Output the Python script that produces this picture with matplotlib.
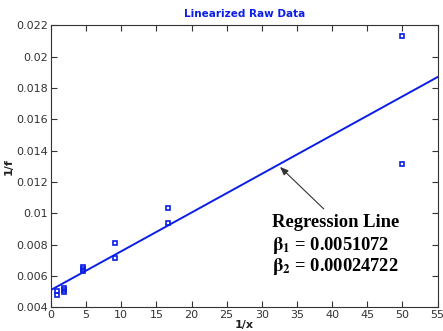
import matplotlib
matplotlib.use("Agg")
import matplotlib.pyplot as plt
import numpy as np

# Measured data: inverse concentration vs inverse rate
inv_x = [0.9, 0.9, 1.8, 1.8, 1.8, 4.5, 4.5, 4.5, 9.1, 9.1, 16.7, 16.7, 50.0, 50.0]
inv_f = [0.00502, 0.00481, 0.00525, 0.00512, 0.00498, 0.00658, 0.00646, 0.00633,
         0.00810, 0.00717, 0.01034, 0.00936, 0.02132, 0.01318]

# Least-squares coefficients
beta1 = 0.0051072
beta2 = 0.00024722

x_ticks = list(range(0, 56, 5))
y_ticks = [0.004, 0.006, 0.008, 0.01, 0.012, 0.014, 0.016, 0.018, 0.02, 0.022]
y_tick_labels = ["0.004", "0.006", "0.008", "0.01", "0.012", "0.014", "0.016",
                 "0.018", "0.02", "0.022"]

fig = plt.figure(figsize=(4.43, 3.31), dpi=100)
ax = fig.add_axes([0.1151, 0.0716, 0.8725, 0.8514])

blue = "#0a1ee6"
ax.plot(inv_x, inv_f, linestyle="none", marker="s", markersize=3.2,
        markerfacecolor="none", markeredgecolor=blue, markeredgewidth=1.2)

xl = np.array([0, 55])
ax.plot(xl, beta1 + beta2 * xl, color=blue, linewidth=1.4)

ax.set_xlim(0, 55)
ax.set_ylim(0.004, 0.022)
ax.set_xticks(x_ticks)
ax.set_yticks(y_ticks)
ax.set_yticklabels(y_tick_labels)
ax.tick_params(direction="in", length=4, width=0.8, top=True, right=True,
               labelsize=8, colors="#333333", labelcolor="#333333", pad=2)
for s in ax.spines.values():
    s.set_color("#333333")
    s.set_linewidth(0.8)

ax.set_title("Linearized Raw Data", color=blue, fontsize=7.5, fontweight="bold", pad=6)
ax.set_xlabel("1/x", fontsize=8, fontweight="bold", color="#222222", labelpad=0)
ax.set_ylabel("1/f", fontsize=8, fontweight="bold", color="#222222", labelpad=2)

x_arrow = 32.3
ax.annotate("", xy=(x_arrow, beta1 + beta2 * x_arrow), xytext=(39.1, 0.01016),
            arrowprops=dict(arrowstyle="-|>,head_length=0.5,head_width=0.2",
                            color="#333333", lw=0.8))

serif = "Liberation Serif"
tx = 31.4
ax.text(tx, 0.00939, "Regression Line", fontsize=13.3, fontweight="bold",
        family=serif, va="center", ha="left", color="black")
ax.text(tx, 0.00794, r"$\mathbf{\beta_1}$ = 0.0051072", fontsize=13.3,
        fontweight="bold", family=serif, va="center", ha="left", color="black",
        math_fontfamily="stix")
ax.text(tx, 0.00660, r"$\mathbf{\beta_2}$ = 0.00024722", fontsize=13.3,
        fontweight="bold", family=serif, va="center", ha="left", color="black",
        math_fontfamily="stix")

fig.savefig("out.png", dpi=100)
